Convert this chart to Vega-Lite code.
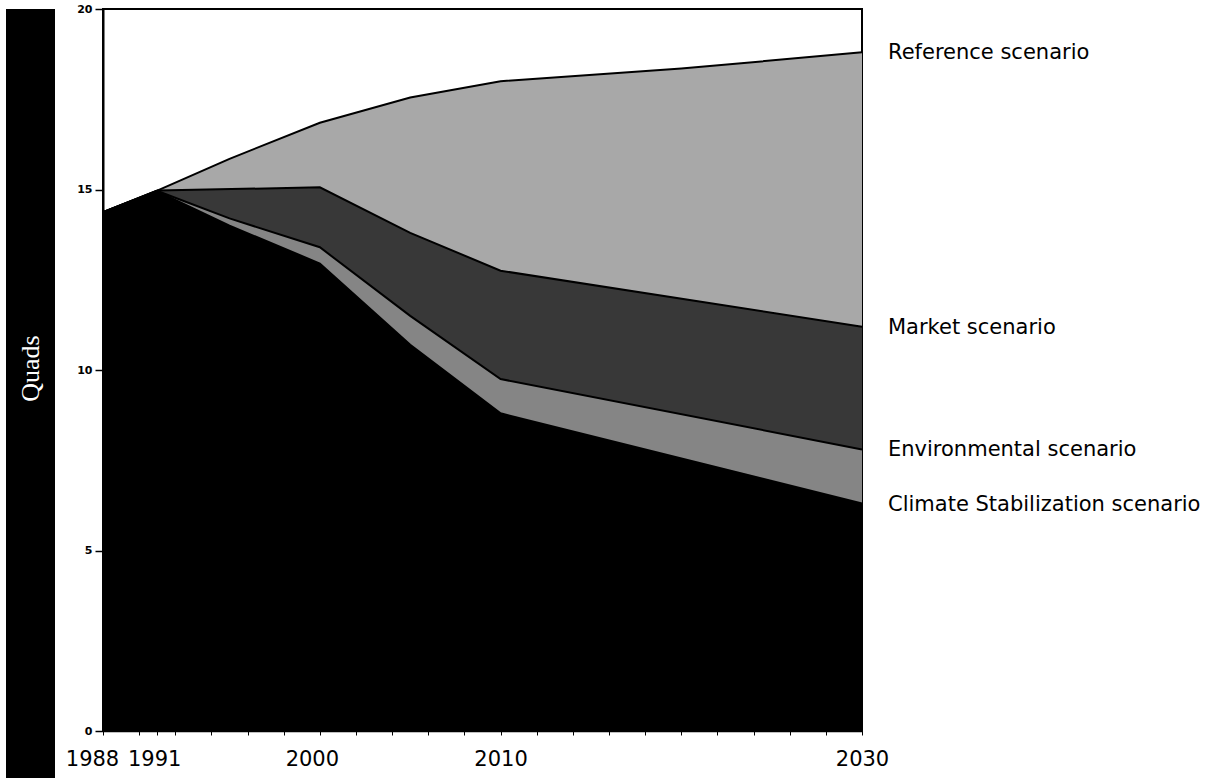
{
  "$schema": "https://vega.github.io/schema/vega-lite/v6.json",
  "background": "white",
  "padding": {"left": 6, "top": 2, "right": 5, "bottom": 0},
  "bounds": "flush",
  "spacing": 48,
  "config": {"view": {"stroke": null}, "font": "DejaVu Sans"},
  "datasets": {
    "series": [
      {"series": "Reference scenario", "year": 1988, "value": 14.37},
      {"series": "Reference scenario", "year": 1991, "value": 14.97},
      {"series": "Reference scenario", "year": 1995, "value": 15.85},
      {"series": "Reference scenario", "year": 2000, "value": 16.85},
      {"series": "Reference scenario", "year": 2005, "value": 17.55},
      {"series": "Reference scenario", "year": 2010, "value": 18.0},
      {"series": "Reference scenario", "year": 2020, "value": 18.35},
      {"series": "Reference scenario", "year": 2030, "value": 18.8},
      {"series": "Market scenario", "year": 1988, "value": 14.37},
      {"series": "Market scenario", "year": 1991, "value": 14.97},
      {"series": "Market scenario", "year": 2000, "value": 15.06},
      {"series": "Market scenario", "year": 2005, "value": 13.8},
      {"series": "Market scenario", "year": 2010, "value": 12.75},
      {"series": "Market scenario", "year": 2030, "value": 11.2},
      {"series": "Environmental scenario", "year": 1988, "value": 14.37},
      {"series": "Environmental scenario", "year": 1991, "value": 14.96},
      {"series": "Environmental scenario", "year": 1995, "value": 14.2},
      {"series": "Environmental scenario", "year": 2000, "value": 13.4},
      {"series": "Environmental scenario", "year": 2005, "value": 11.5},
      {"series": "Environmental scenario", "year": 2010, "value": 9.75},
      {"series": "Environmental scenario", "year": 2030, "value": 7.8},
      {"series": "Climate Stabilization scenario", "year": 1988, "value": 14.37},
      {"series": "Climate Stabilization scenario", "year": 1991, "value": 14.95},
      {"series": "Climate Stabilization scenario", "year": 1995, "value": 14.0},
      {"series": "Climate Stabilization scenario", "year": 2000, "value": 12.95},
      {"series": "Climate Stabilization scenario", "year": 2005, "value": 10.7},
      {"series": "Climate Stabilization scenario", "year": 2010, "value": 8.8},
      {"series": "Climate Stabilization scenario", "year": 2030, "value": 6.3}
    ],
    "ytitle": [{"t": "Quads"}]
  },
  "hconcat": [
    {
      "width": 49,
      "height": 769,
      "view": {"fill": "black", "stroke": null},
      "data": {"name": "ytitle"},
      "mark": {"type": "text", "color": "white", "angle": 270, "font": "Liberation Serif", "fontSize": 26, "dx": 25, "align": "center", "baseline": "middle"},
      "encoding": {"text": {"field": "t"}}
    },
    {
      "width": 759,
      "height": 722,
      "view": {"stroke": "black", "strokeWidth": 2},
      "data": {"name": "series"},
      "encoding": {
        "x": {
          "field": "year", "type": "quantitative",
          "scale": {"domain": [1988, 2030], "nice": false, "zero": false},
          "axis": {
            "title": null,
            "values": [1988, 1990, 1991, 1992, 1994, 1996, 1998, 2000, 2002, 2004, 2006, 2008, 2010, 2012, 2014, 2016, 2018, 2020, 2022, 2024, 2026, 2028, 2030],
            "format": "d",
            "labelExpr": "indexof([1988, 1991, 2000, 2010, 2030], datum.value) >= 0 ? datum.label : ''",
            "labelFontSize": 21,
            "labelFont": "DejaVu Sans",
            "labelColor": "black",
            "labelPadding": 13,
            "labelOffset": {"condition": [{"test": "datum.value === 1988", "value": -11}, {"test": "datum.value === 1991", "value": -3}, {"test": "datum.value === 2000", "value": -8}], "value": 0},
            "labelOverlap": false,
            "labelFlush": false,
            "labelBound": false,
            "tickSize": 4,
            "tickColor": "black",
            "domainColor": "black",
            "domainWidth": 1.5,
            "grid": false
          }
        },
        "y": {
          "field": "value", "type": "quantitative", "stack": null,
          "scale": {"domain": [0, 20], "nice": false},
          "axis": {
            "title": null,
            "values": [0, 5, 10, 15, 20],
            "labelFontSize": 11,
            "labelFontWeight": "bold",
            "labelColor": "black",
            "labelPadding": 3,
            "tickSize": 8,
            "tickColor": "black",
            "tickWidth": 1.5,
            "domainColor": "black",
            "domainWidth": 2,
            "grid": false
          }
        }
      },
      "layer": [
        {
          "transform": [{"filter": "datum.series === 'Reference scenario'"}],
          "mark": {"type": "area", "fill": "#a8a8a8", "fillOpacity": 1, "line": {"color": "black", "strokeWidth": 2}}
        },
        {
          "transform": [{"filter": "datum.series === 'Market scenario'"}],
          "mark": {"type": "area", "fill": "#383838", "fillOpacity": 1, "line": {"color": "black", "strokeWidth": 2}}
        },
        {
          "transform": [{"filter": "datum.series === 'Environmental scenario'"}],
          "mark": {"type": "area", "fill": "#858585", "fillOpacity": 1, "line": {"color": "black", "strokeWidth": 2}}
        },
        {
          "transform": [{"filter": "datum.series === 'Climate Stabilization scenario'"}],
          "mark": {"type": "area", "fill": "black", "fillOpacity": 1, "line": {"color": "black", "strokeWidth": 2}}
        },
        {
          "transform": [{"filter": "datum.year === 2030"}],
          "mark": {"type": "text", "align": "left", "baseline": "middle", "dx": 26, "dy": 1, "fontSize": 21, "font": "DejaVu Sans", "color": "black"},
          "encoding": {"text": {"field": "series"}}
        }
      ]
    }
  ]
}
